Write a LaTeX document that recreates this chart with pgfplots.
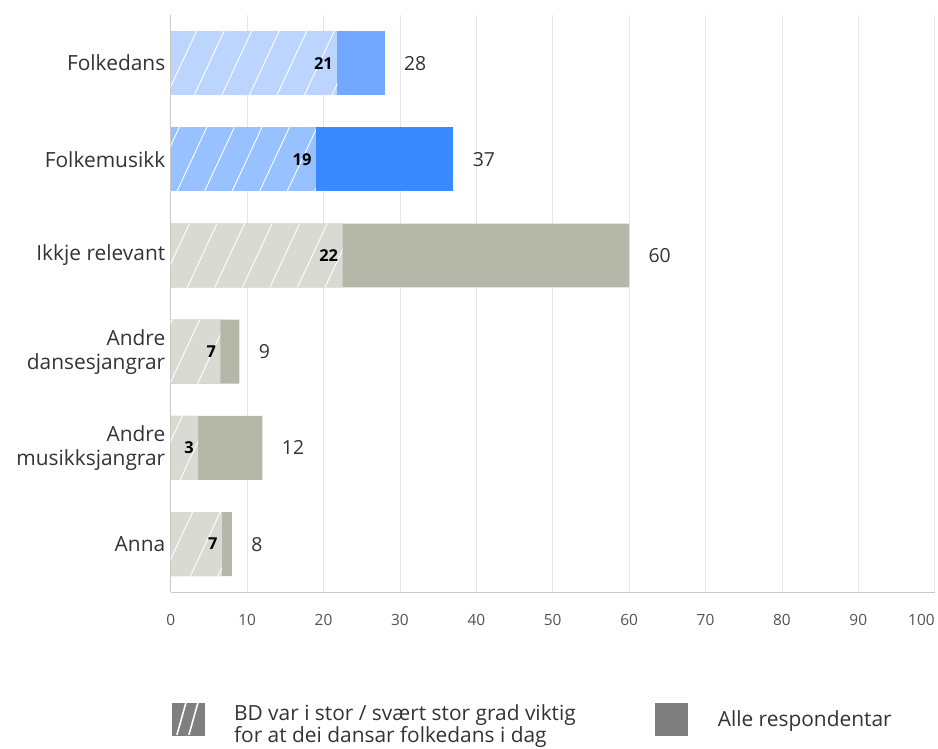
\documentclass[border=0pt]{standalone}
\usepackage{pgfplots}
\pgfplotsset{compat=1.18}
\usepackage{fontspec}
\setmainfont{Open Sans}
\usetikzlibrary{patterns.meta}
\definecolor{fdfull}{HTML}{72A8FF}
\definecolor{fdhatch}{HTML}{BCD5FF}
\definecolor{fmfull}{HTML}{3A8AFF}
\definecolor{fmhatch}{HTML}{97C1FF}
\definecolor{otfull}{HTML}{B5B7A9}
\definecolor{othatch}{HTML}{DADAD4}
\definecolor{legendgray}{HTML}{7F7F7F}
\definecolor{axisgray}{HTML}{C8C8C8}
\definecolor{gridgray}{HTML}{E6E6E6}
\definecolor{textgray}{HTML}{333333}
\begin{document}
\begin{tikzpicture}
\begin{axis}[
  scale only axis, width=765bp, height=578bp,
  xmin=0, xmax=100, ymin=-0.5, ymax=5.5,
  clip=false,
  axis x line*=bottom, axis y line*=left,
  axis line style={-, draw=axisgray, line width=1.2pt},
  xtick={0,10,...,100},
  xticklabels={0,10,20,30,40,50,60,70,80,90,\makebox[0pt][r]{100}},
  ytick={0,...,5},
  yticklabels={Anna,{Andre\\musikksjangrar},{Andre\\dansesjangrar},Ikkje relevant,Folkemusikk,Folkedans},
  major tick length=0pt,
  xmajorgrids, grid style={gridgray, line width=0.8pt},
  /pgf/number format/assume math mode=true,
  xticklabel style={font=\fontsize{15.5}{18}\selectfont, text=textgray!85, yshift=-19bp},
  yticklabel style={font=\fontsize{21}{24}\selectfont, text=textgray, align=right, xshift=-2bp},
  point meta=explicit symbolic,
  legend style={at={(axis description cs:0,0)}, anchor=north west, xshift=1bp, yshift=-110bp,
    draw=none, fill=none, inner sep=0pt, outer sep=0pt,
    font=\fontsize{21}{23}\selectfont, text=textgray,
    nodes={inner sep=0pt},
    /tikz/every odd column/.append style={column sep=30bp},
    /tikz/every even column/.append style={column sep=72bp}},
  legend columns=2, legend cell align=left,
]
% full bars (all respondents)
\addplot[forget plot, xbar, bar width=64bp, bar shift=0pt, fill=fdfull, draw=none,
  nodes near coords, every node near coord/.append style={anchor=west, xshift=16bp, font=\fontsize{19.5}{20}\selectfont, text=textgray}]
  coordinates {(28,5) [28]};
\addplot[forget plot, xbar, bar width=64bp, bar shift=0pt, fill=fmfull, draw=none,
  nodes near coords, every node near coord/.append style={anchor=west, xshift=16bp, font=\fontsize{19.5}{20}\selectfont, text=textgray}]
  coordinates {(37,4) [37]};
\addplot[forget plot, xbar, bar width=64bp, bar shift=0pt, fill=otfull, draw=none,
  nodes near coords, every node near coord/.append style={anchor=west, xshift=16bp, font=\fontsize{19.5}{20}\selectfont, text=textgray}]
  coordinates {(60,3) [60] (9,2) [9] (12,1) [12] (8,0) [8]};
% hatched bars (BD important)
\addplot[forget plot, xbar, bar width=64bp, bar shift=0pt, fill=fdhatch, draw=none,
  postaction={pattern={Lines[angle=65,distance=25bp,line width=0.9bp]}, pattern color=white},
  nodes near coords, every node near coord/.append style={anchor=east, xshift=-1bp, font=\bfseries\fontsize{16.5}{18}\selectfont, text=black}]
  coordinates {(21.8,5) [21]};
\addplot[forget plot, xbar, bar width=64bp, bar shift=0pt, fill=fmhatch, draw=none,
  postaction={pattern={Lines[angle=65,distance=25bp,line width=0.9bp]}, pattern color=white},
  nodes near coords, every node near coord/.append style={anchor=east, xshift=-1bp, font=\bfseries\fontsize{16.5}{18}\selectfont, text=black}]
  coordinates {(19.0,4) [19]};
\addplot[forget plot, xbar, bar width=64bp, bar shift=0pt, fill=othatch, draw=none,
  postaction={pattern={Lines[angle=65,distance=25bp,line width=0.9bp]}, pattern color=white},
  nodes near coords, every node near coord/.append style={anchor=east, xshift=-1bp, font=\bfseries\fontsize{16.5}{18}\selectfont, text=black}]
  coordinates {(22.5,3) [22] (6.5,2) [7] (3.6,1) [3] (6.7,0) [7]};
% legend
\addlegendimage{legend image code/.code={
  \fill[legendgray] (0bp,-16bp) rectangle (32bp,16bp);
  \draw[white, line width=1.6bp] (5bp,-16bp) -- (14bp,16bp) (17bp,-16bp) -- (26bp,16bp);}}
\addlegendentry{\makebox[350bp][l]{\begin{tabular}{@{}l@{}}BD var i stor / svært stor grad viktig\\for at dei dansar folkedans i dag\end{tabular}}}
\addlegendimage{legend image code/.code={
  \fill[legendgray] (0bp,-16bp) rectangle (32bp,16bp);}}
\addlegendentry{Alle respondentar}
% fixed bounding box
\path (axis description cs:-0.2235,-0.270) rectangle (axis description cs:1.0026,1.026);
\end{axis}
\end{tikzpicture}
\end{document}
